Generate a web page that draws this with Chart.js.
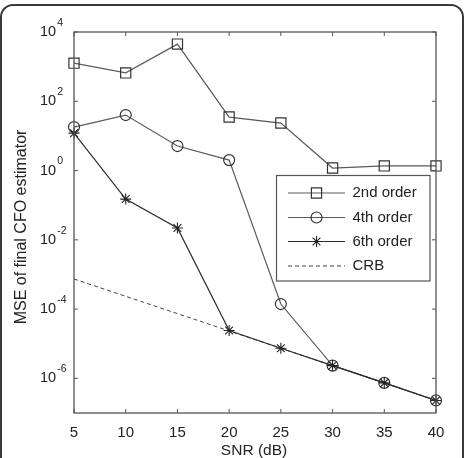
<!DOCTYPE html>
<html>
<head>
<meta charset="utf-8">
<script src="https://cdn.jsdelivr.net/npm/chart.js@4"></script>
<style>
html,body{margin:0;padding:0;background:#fff;overflow:hidden;}
#wrap{position:relative;width:465px;height:458px;}
</style>
</head>
<body>
<div id="wrap"><canvas id="c" width="465" height="458"></canvas></div>
<script>
// ---- data ----
const snr = [5, 10, 15, 20, 25, 30, 35, 40];
const order2 = [1260, 660, 4470, 35, 23.5, 1.18, 1.36, 1.36];
const order4 = [18, 40, 5.1, 2.0, 1.4e-4, 2.34e-6, 7.4e-7, 2.3e-7];
const order6 = [12, 0.15, 0.022, 2.4e-5, 7.4e-6, 2.34e-6, 7.4e-7, 2.3e-7];
const crb = [7.4e-4, 2.34e-4, 7.4e-5, 2.34e-5, 7.4e-6, 2.34e-6, 7.4e-7, 2.34e-7];
const seriesNames = ['2nd order', '4th order', '6th order', 'CRB'];
const xTicks = [5, 10, 15, 20, 25, 30, 35, 40];
const yTickExp = [4, 2, 0, -2, -4, -6];
const xTitle = 'SNR (dB)';
const yTitle = 'MSE of final CFO estimator';

const pts = arr => arr.map((v, i) => ({x: snr[i], y: v}));
const FONT = '"Liberation Sans", Arial, sans-serif';

const datasets = [
  {label: seriesNames[3], data: pts(crb), borderColor: '#444', borderWidth: 1, borderDash: [4, 3],
   pointRadius: 0, fill: false, tension: 0, clip: false, order: 4},
  {label: seriesNames[0], data: pts(order2), borderColor: '#5a5a5a', borderWidth: 1.2,
   pointStyle: 'rect', pointRadius: 7.2, pointBorderColor: '#333', pointBorderWidth: 1.2,
   pointBackgroundColor: 'rgba(0,0,0,0)', fill: false, tension: 0, clip: false, order: 3},
  {label: seriesNames[1], data: pts(order4), borderColor: '#5a5a5a', borderWidth: 1.2,
   pointStyle: 'circle', pointRadius: 5.5, pointBorderColor: '#333', pointBorderWidth: 1.2,
   pointBackgroundColor: 'rgba(0,0,0,0)', fill: false, tension: 0, clip: false, order: 2},
  {label: seriesNames[2], data: pts(order6), borderColor: '#2a2a2a', borderWidth: 1.2,
   pointStyle: 'star', pointRadius: 5.5, pointBorderColor: '#222', pointBorderWidth: 1.1,
   pointBackgroundColor: 'rgba(0,0,0,0)', fill: false, tension: 0, clip: false, order: 1}
];

function line(ctx, x1, y1, x2, y2) { ctx.beginPath(); ctx.moveTo(x1, y1); ctx.lineTo(x2, y2); ctx.stroke(); }

const decor = {
  id: 'decor',
  afterDraw(chart) {
    const ctx = chart.ctx;
    const {left, right, top, bottom} = chart.chartArea;
    const xs = chart.scales.x, ys = chart.scales.y;
    ctx.save();
    // figure frame (rounded)
    ctx.strokeStyle = '#3a3a3a'; ctx.lineWidth = 2;
    const fx = 1, fy = 5, fw = 462, fh = 480, r = 12;
    ctx.beginPath();
    ctx.moveTo(fx + r, fy); ctx.lineTo(fx + fw - r, fy);
    ctx.arcTo(fx + fw, fy, fx + fw, fy + r, r);
    ctx.lineTo(fx + fw, fy + fh);
    ctx.moveTo(fx, fy + fh); ctx.lineTo(fx, fy + r);
    ctx.arcTo(fx, fy, fx + r, fy, r);
    ctx.stroke();

    // axes box
    ctx.strokeStyle = '#555'; ctx.lineWidth = 1.3;
    ctx.strokeRect(left, top, right - left, bottom - top);
    // inside ticks
    ctx.lineWidth = 1;
    xTicks.forEach(v => {
      const px = xs.getPixelForValue(v);
      line(ctx, px, bottom, px, bottom - 4);
      line(ctx, px, top, px, top + 4);
    });
    yTickExp.forEach(e => {
      const py = ys.getPixelForValue(Math.pow(10, e));
      line(ctx, left, py, left + 4, py);
      line(ctx, right, py, right - 4, py);
    });
    // x tick labels
    ctx.fillStyle = '#222';
    ctx.font = '15px ' + FONT;
    ctx.textAlign = 'center'; ctx.textBaseline = 'middle';
    xTicks.forEach(v => ctx.fillText(String(v), xs.getPixelForValue(v), 433));
    // y tick labels 10^e
    yTickExp.forEach(e => {
      const py = ys.getPixelForValue(Math.pow(10, e));
      ctx.font = '14.5px ' + FONT;
      ctx.textAlign = 'left'; ctx.textBaseline = 'middle';
      ctx.fillText('10', 40, py);
      const w = ctx.measureText('10').width;
      ctx.font = '10.5px ' + FONT;
      ctx.fillText(String(e), 40 + w + 1, py - 9);
    });
    // axis titles
    ctx.font = '15.5px ' + FONT;
    ctx.textAlign = 'center'; ctx.textBaseline = 'middle';
    ctx.fillText(xTitle, 254, 451);
    ctx.save();
    ctx.translate(22, 227);
    ctx.rotate(-Math.PI / 2);
    ctx.font = '16px ' + FONT;
    ctx.fillText(yTitle, 0, 0);
    ctx.restore();

    // legend
    const lx = 276.5, ly = 175.5, lw = 153.5, lh = 105.5;
    ctx.fillStyle = '#fff';
    ctx.fillRect(lx, ly, lw, lh);
    ctx.strokeStyle = '#555'; ctx.lineWidth = 1.2;
    ctx.strokeRect(lx, ly, lw, lh);
    const rows = [1, 2, 3, 0];
    const rowY = [193, 217.5, 241.5, 266];
    rows.forEach((di, k) => {
      const ds = chart.data.datasets[di];
      const y = rowY[k];
      ctx.save();
      ctx.strokeStyle = ds.borderColor; ctx.lineWidth = ds.borderWidth;
      ctx.setLineDash(ds.borderDash || []);
      line(ctx, 288, y, 345, y);
      ctx.restore();
      if (ds.pointRadius > 0) {
        ctx.save();
        ctx.fillStyle = 'rgba(0,0,0,0)';
        ctx.strokeStyle = ds.pointBorderColor; ctx.lineWidth = ds.pointBorderWidth;
        Chart.helpers.drawPoint(ctx, {
          pointStyle: ds.pointStyle, radius: ds.pointRadius, rotation: 0,
          borderWidth: ds.pointBorderWidth
        }, 316.5, y);
        ctx.restore();
      }
      ctx.fillStyle = '#222';
      ctx.font = '15px ' + FONT;
      ctx.textAlign = 'left'; ctx.textBaseline = 'middle';
      ctx.fillText(ds.label, 352.5, y);
    });
    ctx.restore();
  }
};

new Chart(document.getElementById('c'), {
  type: 'line',
  data: {datasets},
  options: {
    responsive: false,
    animation: false,
    events: [],
    layout: {padding: {top: 32, right: 29, left: 0, bottom: 0}},
    plugins: {legend: {display: false}, tooltip: {enabled: false}},
    scales: {
      x: {type: 'linear', min: 5, max: 40,
          grid: {display: false}, border: {display: false},
          ticks: {display: false},
          afterFit: s => { s.height = 45; }},
      y: {type: 'logarithmic', min: 1e-7, max: 1e4,
          grid: {display: false}, border: {display: false},
          ticks: {display: false},
          afterFit: s => { s.width = 74; }}
    }
  },
  plugins: [decor]
});
</script>
</body>
</html>
